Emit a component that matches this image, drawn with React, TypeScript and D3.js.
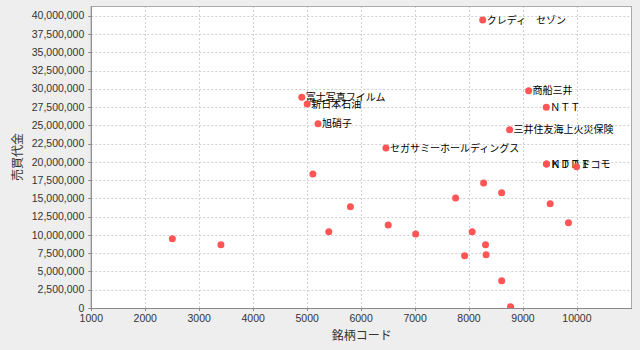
import React from "react";
import * as d3 from "d3";

const codes = [2502, 3402, 4901, 5001, 5106, 5201, 5401, 5802, 6460, 6502, 7011, 7751, 7918, 8058, 8253, 8270, 8306, 8316, 8604, 8605, 8752, 8770, 9104, 9432, 9433, 9437, 9503, 9843, 9994];
const values = [9490000, 8660000, 28830000, 27920000, 18340000, 25220000, 10440000, 13860000, 21900000, 11360000, 10130000, 15050000, 7160000, 10440000, 39400000, 17100000, 8660000, 7290000, 15780000, 3740000, 24400000, 180000, 29730000, 27460000, 19700000, 19700000, 14270000, 11670000, 19340000];
const labels = ["", "", "富士写真フイルム", "新日本石油", "", "旭硝子", "", "", "セガサミーホールディングス", "", "", "", "", "", "クレディ　セゾン", "", "", "", "", "", "三井住友海上火災保険", "", "商船三井", "ＮＴＴ", "ＫＤＤＩ", "ＮＴＴドコモ", "", "", ""];
const xTicks = [1000, 2000, 3000, 4000, 5000, 6000, 7000, 8000, 9000, 10000];
const yTicks = d3.range(0, 40000001, 2500000);
const xTitle = "銘柄コード";
const yTitle = "売買代金";

export default function App() {
  const W = 640, H = 350;
  const left = 91.3, right = 632, top = 6, bottom = 308;
  const x = d3.scaleLinear().domain([1000, 11020]).range([left, right]);
  const y = d3.scaleLinear().domain([0, 41330000]).range([bottom, top]);
  const fmt = d3.format(",");
  const tickFont = "'Liberation Sans', Arial, sans-serif";
  const cjk = "'Noto Sans CJK JP', sans-serif";
  const pts = codes.map((c, i) => ({ c, v: values[i], l: labels[i] }));
  return (
    <svg width={W} height={H} style={{ position: "absolute", left: 0, top: 0, display: "block" }}>
      <rect x={0} y={0} width={W} height={H} fill="#eeeeee" />
      <defs>
        <clipPath id="plotclip">
          <rect x={left} y={top} width={right - left} height={bottom - top} />
        </clipPath>
      </defs>
      <rect x={left} y={top} width={right - left} height={bottom - top} fill="#ffffff" />
      <g stroke="#d0d0d0" strokeWidth={1} strokeDasharray="2,2">
        {xTicks.map((t) => (
          <line key={"gx" + t} x1={Math.round(x(t)) + 0.5} x2={Math.round(x(t)) + 0.5} y1={top} y2={bottom} />
        ))}
        {yTicks.map((t) => (
          <line key={"gy" + t} x1={left} x2={right} y1={Math.round(y(t)) + 0.5} y2={Math.round(y(t)) + 0.5} />
        ))}
      </g>
      <rect x={left} y={top + 0.5} width={right - left - 0.5} height={bottom - top} fill="none" stroke="#aaaaaa" strokeWidth={1} />
      <g clipPath="url(#plotclip)">
        {pts.filter((p) => p.l).map((p, i) => (
          <text key={"l" + i} x={x(p.c) + 4} y={y(p.v)} dy="0.36em" fontSize={10} fontFamily={cjk} fill="#000">
            {p.l}
          </text>
        ))}
        {pts.map((p, i) => (
          <circle key={"p" + i} cx={x(p.c)} cy={y(p.v)} r={3.5} fill="#ff5555" />
        ))}
      </g>
      <line x1={left} x2={left} y1={top} y2={bottom} stroke="#888888" />
      <line x1={left} x2={right} y1={bottom + 0.5} y2={bottom + 0.5} stroke="#888888" />
      {yTicks.map((t) => (
        <g key={"ty" + t}>
          <line x1={left - 3} x2={left} y1={Math.round(y(t)) + 0.5} y2={Math.round(y(t)) + 0.5} stroke="#888888" />
          <text x={left - 7} y={y(t)} dy="0.35em" textAnchor="end" fontSize={10.5} fontFamily={tickFont} fill="#333">
            {fmt(t)}
          </text>
        </g>
      ))}
      {xTicks.map((t) => (
        <g key={"tx" + t}>
          <line x1={Math.round(x(t)) + 0.5} x2={Math.round(x(t)) + 0.5} y1={bottom} y2={bottom + 3} stroke="#888888" />
          <text x={x(t)} y={322} textAnchor="middle" fontSize={10.5} fontFamily={tickFont} fill="#333">
            {t}
          </text>
        </g>
      ))}
      <text x={(left + right) / 2} y={336} dy="0.35em" textAnchor="middle" fontSize={12} fontFamily={cjk} fill="#333">
        {xTitle}
      </text>
      <text transform={`translate(18,${(top + bottom) / 2}) rotate(-90)`} dy="0.35em" textAnchor="middle" fontSize={12} fontFamily={cjk} fill="#333">
        {yTitle}
      </text>
    </svg>
  );
}
